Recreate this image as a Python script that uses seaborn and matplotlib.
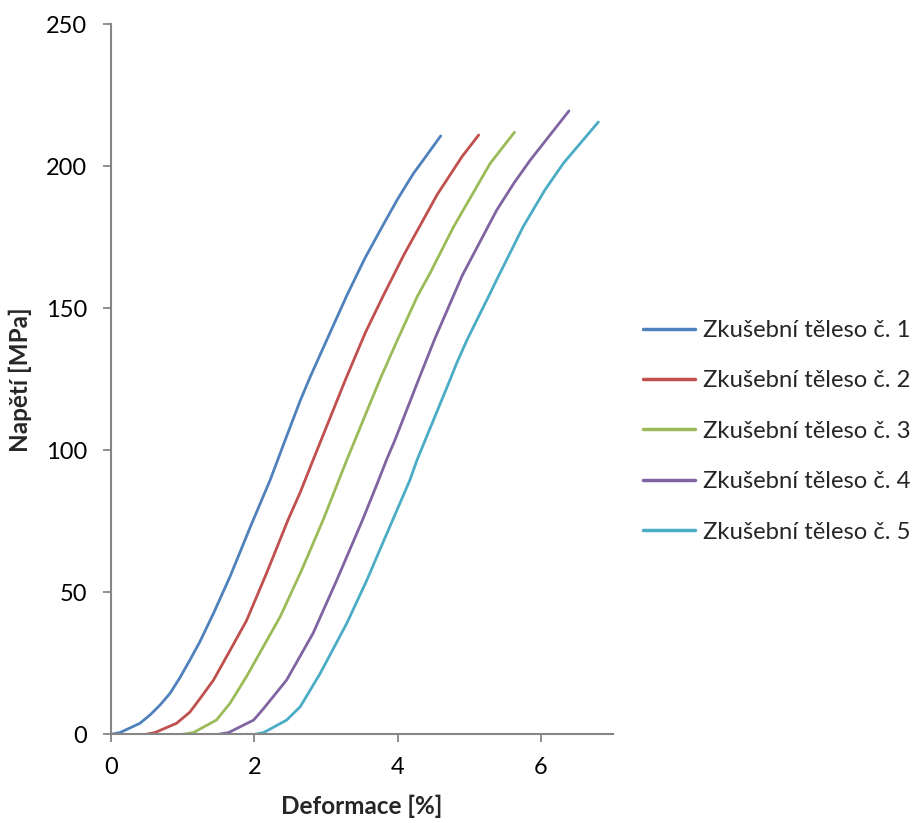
import pandas as pd
import seaborn as sns
import matplotlib.pyplot as plt

# Tahová zkouška - 5 zkušebních těles
labels = ['Zkušební těleso č. 1', 'Zkušební těleso č. 2', 'Zkušební těleso č. 3',
          'Zkušební těleso č. 4', 'Zkušební těleso č. 5']
colors = ['#4F81BD', '#C0504D', '#9BBB59', '#8064A2', '#4BACC6']

def1 = [0.0, 0.126, 0.405, 0.544, 0.684, 0.823, 0.963, 1.10, 1.24, 1.43, 1.66, 1.96, 2.22, 2.43, 2.64,
        2.78, 2.99, 3.29, 3.54, 3.80, 4.0, 4.22, 4.36, 4.60]
nap1 = [0.0, 0.6, 3.9, 6.8, 10.3, 14.4, 20.0, 26.1, 32.6, 42.6, 55.5, 74.0, 89.5, 103.6, 117.5,
        125.9, 137.7, 154.5, 167.5, 179.5, 188.5, 197.5, 202.3, 210.7]

def2 = [0.49, 0.614, 0.916, 1.10, 1.24, 1.43, 1.66, 1.89, 2.17, 2.47, 2.64, 2.82, 3.27, 3.55, 3.80,
        4.09, 4.31, 4.55, 4.68, 4.90, 5.13]
nap2 = [0.0, 0.6, 3.9, 7.8, 12.5, 19.1, 29.5, 40.0, 56.7, 75.5, 85.2, 96.6, 124.8, 141.5, 154.5,
        169.0, 179.0, 190.0, 195.0, 203.5, 211.0]

def3 = [1.0, 1.15, 1.47, 1.66, 1.89, 2.36, 2.66, 2.96, 3.29, 3.75, 3.99, 4.27, 4.45, 4.78, 5.29, 5.63]
nap3 = [0.0, 0.6, 5.0, 10.9, 20.3, 41.4, 57.8, 75.5, 96.6, 124.8, 138.5, 154.0, 162.3, 178.7, 201.0,
        212.0]

def4 = [1.50, 1.64, 1.99, 2.13, 2.45, 2.82, 3.15, 3.51, 3.71, 3.85, 3.96, 4.29, 4.40, 4.52, 4.90,
        5.38, 5.62, 5.85, 6.39]
nap4 = [0.0, 0.6, 5.0, 9.1, 19.1, 35.6, 54.3, 75.5, 88.0, 97.0, 103.5, 124.8, 131.8, 139.4, 161.5,
        184.5, 194.0, 202.2, 219.5]

def5 = [2.01, 2.13, 2.45, 2.64, 2.92, 3.29, 3.57, 3.75, 4.17, 4.27, 4.73, 4.82, 4.97, 5.29, 5.38,
        5.75, 6.05, 6.31, 6.80]
nap5 = [0.0, 0.6, 5.0, 9.7, 21.5, 39.1, 54.3, 64.9, 89.5, 96.6, 124.8, 130.5, 139.0, 155.3, 160.0,
        178.7, 191.5, 201.0, 215.6]

deformace = [def1, def2, def3, def4, def5]
napeti = [nap1, nap2, nap3, nap4, nap5]

frames = []
for lab, x, y in zip(labels, deformace, napeti):
    frames.append(pd.DataFrame({'Deformace': x, 'Napeti': y, 'Teleso': lab}))
df = pd.concat(frames, ignore_index=True)

sns.set_style('ticks')
plt.rcParams['font.family'] = ['Lato', 'DejaVu Sans']

fig = plt.figure(figsize=(9.16, 8.23), dpi=100)
ax = fig.add_axes([0.1212, 0.1078, 0.5477, 0.8627])

sns.lineplot(data=df, x='Deformace', y='Napeti', hue='Teleso', palette=colors,
             sort=False, estimator=None, linewidth=2.0, ax=ax, legend=False)

ax.set_xlim(0, 7)
ax.set_ylim(0, 250)
ax.set_xticks([0, 2, 4, 6])
ax.set_yticks([0, 50, 100, 150, 200, 250])
ax.set_xlabel('Deformace [%]', fontsize=17.5, fontweight='bold', labelpad=12)
ax.set_ylabel('Napětí [MPa]', fontsize=17.5, fontweight='bold', labelpad=10)
ax.tick_params(labelsize=17, colors='#868686', labelcolor='black', length=6, width=1.3, direction='out')
ax.tick_params(axis='y', pad=11)
ax.tick_params(axis='x', pad=10)
for side in ['top', 'right']:
    ax.spines[side].set_visible(False)
for side in ['left', 'bottom']:
    ax.spines[side].set_color('#868686')
    ax.spines[side].set_linewidth(1.5)

handles = [plt.Line2D([], [], color=c, linewidth=2.5) for c in colors]
fig.legend(handles, labels, loc='center left', bbox_to_anchor=(0.702, 0.476), frameon=False,
           fontsize=17.2, handlelength=2.18, handletextpad=0.33, labelspacing=1.23,
           borderpad=0, borderaxespad=0)

fig.savefig('out.png', dpi=100, facecolor='white')
